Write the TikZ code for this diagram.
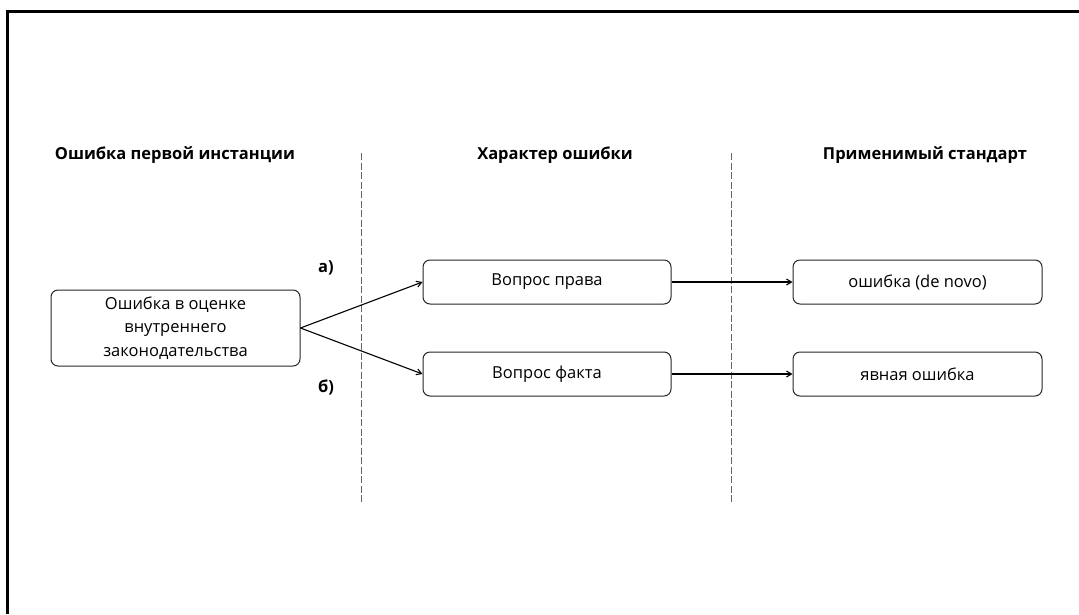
\documentclass[tikz,border=0pt]{standalone}
\usepackage{fontspec}
\setmainfont{Open Sans}
\usetikzlibrary{arrows.meta}
\begin{document}
\begin{tikzpicture}[x=1pt,y=-1pt,
  box/.style={draw=black!85, line width=1pt, rounded corners=7pt, minimum height=44pt, align=center, font=\fontsize{16.5}{23.5}\selectfont, inner sep=0pt},
  head/.style={font=\bfseries\fontsize{16.5}{19}\selectfont},
  lab/.style={font=\bfseries\fontsize{16.5}{19}\selectfont},
  conn/.style={-{Straight Barb[length=5pt,width=6pt]}, line width=1.1pt},
  sep/.style={draw=black!60, dash pattern=on 7pt off 2.5pt, line width=0.9pt}]
\useasboundingbox (0,0) rectangle (1079,614);
\draw[line width=2.2pt] (7.5,614) -- (7.5,11.5) -- (1079,11.5);
\node[head] (h1) at (175,155) {Ошибка первой инстанции};
\node[head] (h2) at (555,155) {Характер ошибки};
\node[head] (h3) at (925,155) {Применимый стандарт};
\coordinate (s1t) at (361,153); \coordinate (s1b) at (361,502);
\coordinate (s2t) at (731,153); \coordinate (s2b) at (731,502);
\draw[sep] (s1t) -- (s1b);
\draw[sep] (s2t) -- (s2b);
\node[box, minimum width=249pt, minimum height=76pt] (src) at (175.5,328) {Ошибка в оценке\\внутреннего\\законодательства};
\node[box, minimum width=248pt] (law) at (547,282) {Вопрос права};
\node[box, minimum width=248pt] (fact) at (547,374) {Вопрос факта};
\node[box, minimum width=249pt] (dn) at (917.5,282) {ошибка (de novo)};
\node[box, minimum width=249pt] (ce) at (917.5,374) {явная ошибка};
\node[lab] (la) at (326,268) {а)};
\node[lab] (lb) at (326,387) {б)};
\draw[conn] (src.east) -- (law.west);
\draw[conn] (src.east) -- (fact.west);
\draw[conn] (law) -- (dn);
\draw[conn] (fact) -- (ce);
\end{tikzpicture}
\end{document}
